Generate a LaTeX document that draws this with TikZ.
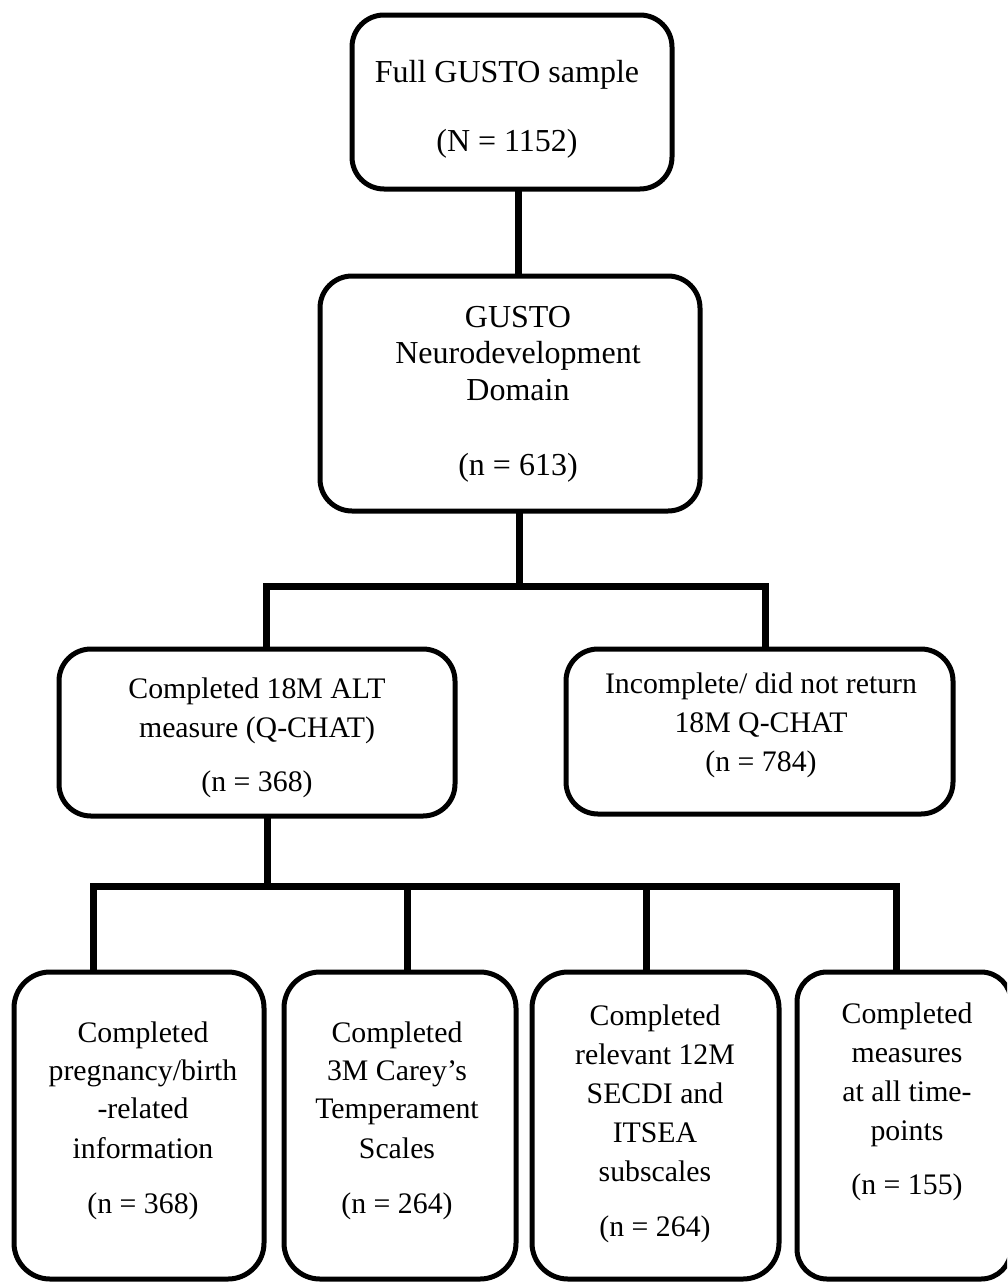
\documentclass[tikz,border=0pt]{standalone}
\usepackage{fontspec}
\setmainfont{Liberation Serif}
\begin{document}
\begin{tikzpicture}[x=1pt,y=-1pt,
  box/.style={draw=black, line width=5pt, rounded corners=32pt, inner sep=0pt, outer sep=0pt},
  link/.style={draw=black, line width=7pt, line cap=butt, line join=miter},
  txt/.style={inner sep=0pt, anchor=base, font=\fontsize{29.8}{35}\selectfont},
  bigtxt/.style={inner sep=0pt, anchor=base, font=\fontsize{32}{38}\selectfont}]
\useasboundingbox (0,0) rectangle (1007,1282);
\clip (0,0) rectangle (1007,1282);
\fill[white] (0,0) rectangle (1007,1282);

% boxes
\node[box, minimum width=320, minimum height=174] (b1) at (512,102) {};
\node[box, minimum width=380, minimum height=235] (b2) at (510,393.5) {};
\node[box, minimum width=396, minimum height=167] (b3) at (257,732.5) {};
\node[box, minimum width=387, minimum height=165] (b4) at (759.5,731.5) {};
\node[box, minimum width=250, minimum height=307, rounded corners=36pt] (b5) at (139,1125.5) {};
\node[box, minimum width=232, minimum height=307, rounded corners=36pt] (b6) at (400,1125.5) {};
\node[box, minimum width=247, minimum height=307, rounded corners=36pt] (b7) at (655.5,1125.5) {};
\node[box, minimum width=214, minimum height=307, rounded corners=30pt] (b8) at (904,1125.5) {};

% junction coordinates
\coordinate (c1) at (518,0);
\coordinate (h1) at (266,586);
\coordinate (hm) at (519,586);
\coordinate (h2) at (765,586);
\coordinate (g5) at (93,886);
\coordinate (g3) at (267,886);
\coordinate (g6) at (407,886);
\coordinate (g7) at (646,886);
\coordinate (g8) at (896,886);

% connectors
\draw[link] (b1.south -| c1) -- (b2.north -| c1);
\draw[link] (b2.south -| hm) -- (hm);
\draw[link] (b3.north -| h1) -- (h1) -- (h2) -- (b4.north -| h2);
\draw[link] (b3.south -| g3) -- (g3);
\draw[link] (b5.north -| g5) -- (g5) -- (g8) -- (b8.north -| g8);
\draw[link] (g6) -- (b6.north -| g6);
\draw[link] (g7) -- (b7.north -| g7);

% texts
\node[bigtxt] (t1a) at (507,82) {Full GUSTO sample};
\node[bigtxt] (t1b) at (507,151) {(N = 1152)};

\node[bigtxt] (t2a) at (518,327) {GUSTO};
\node[bigtxt] (t2b) at (518,363) {Neurodevelopment};
\node[bigtxt] (t2c) at (518,400) {Domain};
\node[bigtxt] (t2d) at (518,475) {(n = 613)};

\node[txt] (t3a) at (257,698) {Completed 18M ALT};
\node[txt] (t3b) at (257,737) {measure (Q-CHAT)};
\node[txt] (t3c) at (257,791) {(n = 368)};

\node[txt] (t4a) at (761,693) {Incomplete/ did not return};
\node[txt] (t4b) at (761,732) {18M Q-CHAT};
\node[txt] (t4c) at (761,771) {(n = 784)};

\node[txt] (t5a) at (143,1042) {Completed};
\node[txt] (t5b) at (143,1080) {pregnancy/birth};
\node[txt] (t5c) at (143,1118) {-related};
\node[txt] (t5d) at (143,1158) {information};
\node[txt] (t5e) at (143,1213) {(n = 368)};

\node[txt] (t6a) at (397,1042) {Completed};
\node[txt] (t6b) at (397,1080) {3M Carey’s};
\node[txt] (t6c) at (397,1118) {Temperament};
\node[txt] (t6d) at (397,1158) {Scales};
\node[txt] (t6e) at (397,1213) {(n = 264)};

\node[txt] (t7a) at (655,1025) {Completed};
\node[txt] (t7b) at (655,1064) {relevant 12M};
\node[txt] (t7c) at (655,1103) {SECDI and};
\node[txt] (t7d) at (655,1142) {ITSEA};
\node[txt] (t7e) at (655,1181) {subscales};
\node[txt] (t7f) at (655,1236) {(n = 264)};

\node[txt] (t8a) at (907,1023) {Completed};
\node[txt] (t8b) at (907,1062) {measures};
\node[txt] (t8c) at (907,1101) {at all time-};
\node[txt] (t8d) at (907,1140) {points};
\node[txt] (t8e) at (907,1194) {(n = 155)};
\end{tikzpicture}
\end{document}
